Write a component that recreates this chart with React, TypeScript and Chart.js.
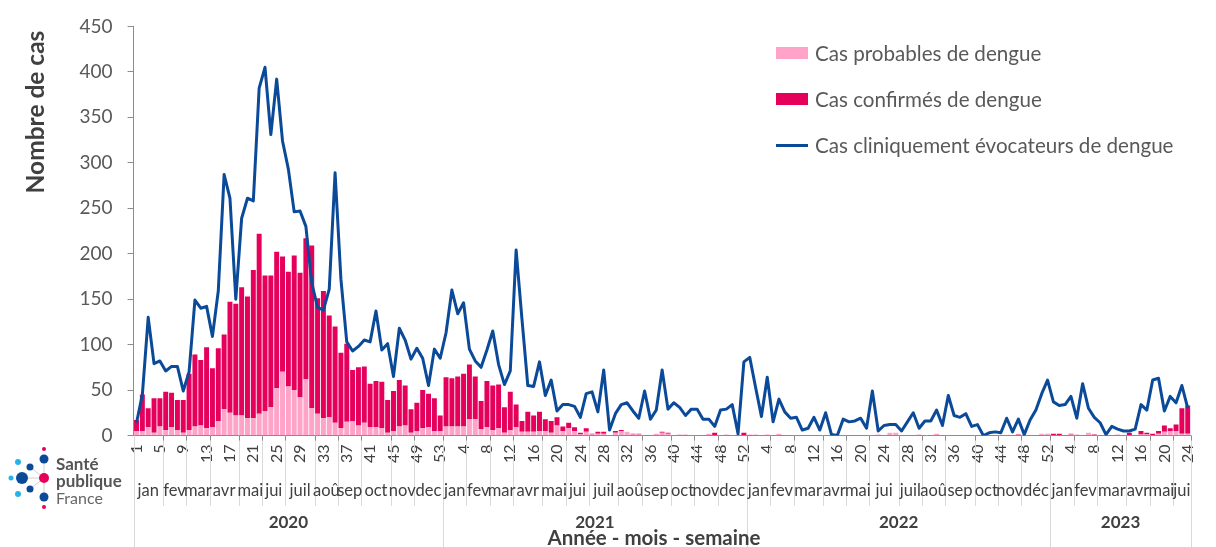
import React, { useEffect, useRef } from "react";
import { Chart, registerables } from "chart.js";

Chart.register(...registerables);

// ---------- Categories / tick labels ----------
const YEARS = ["2020", "2021", "2022", "2023"];
const WEEKS_PER_YEAR = [53, 52, 52, 24];
const WEEK_TICKS_2020 = [1, 5, 9, 13, 17, 21, 25, 29, 33, 37, 41, 45, 49, 53];
const WEEK_TICKS_2021 = [4, 8, 12, 16, 20, 24, 28, 32, 36, 40, 44, 48, 52];
const WEEK_TICKS_2022 = [4, 8, 12, 16, 20, 24, 28, 32, 36, 40, 44, 48, 52];
const WEEK_TICKS_2023 = [4, 8, 12, 16, 20, 24];

const MONTHS_2020 = ["jan", "fev", "mar", "avr", "mai", "jui", "juil", "aoû", "sep", "oct", "nov", "dec"];
const MONTHS_2021 = ["jan", "fev", "mar", "avr", "mai", "jui", "juil", "aoû", "sep", "oct", "nov", "dec"];
const MONTHS_2022 = ["jan", "fev", "mar", "avr", "mai", "jui", "juil", "aoû", "sep", "oct", "nov", "déc"];
const MONTHS_2023 = ["jan", "fev", "mar", "avr", "mai", "jui"];
const MONTH_WEEKS_2020 = [5, 4, 4, 5, 4, 4, 5, 4, 4, 5, 4, 5];
const MONTH_WEEKS_2021 = [4, 4, 4, 5, 4, 4, 5, 4, 5, 4, 4, 5];
const MONTH_WEEKS_2022 = [4, 4, 5, 4, 4, 5, 4, 4, 5, 4, 4, 5];
const MONTH_WEEKS_2023 = [4, 4, 5, 4, 4, 3];

// ---------- Series values ----------
const PROBABLES_2020 = [5, 5, 9, 3, 10, 6, 9, 6, 3, 6, 10, 11, 8, 9, 16, 29, 25, 22, 22, 19, 19, 24, 27, 31, 52, 70, 54, 50, 42, 62, 30, 24, 19, 20, 14, 8, 15, 16, 11, 14, 9, 9, 8, 3, 5, 10, 11, 3, 5, 8, 9, 5, 5];
const PROBABLES_2021 = [10, 10, 10, 10, 18, 18, 7, 9, 6, 8, 3, 6, 9, 4, 4, 4, 5, 5, 3, 11, 5, 8, 5, 1, 4, 1, 2, 2, 0, 3, 5, 4, 1, 1, 0, 0, 2, 3, 2, 0, 1, 1, 0, 0, 0, 2, 0, 0, 1, 0, 1, 0];
const PROBABLES_2022 = [1, 1, 0, 1, 0, 2, 0, 0, 0, 0, 0, 0, 0, 0, 0, 0, 0, 0, 0, 0, 0, 0, 1, 0, 3, 3, 0, 0, 0, 1, 0, 0, 2, 0, 0, 0, 0, 0, 0, 0, 0, 0, 0, 0, 0, 0, 0, 0, 0, 0, 2, 2];
const PROBABLES_2023 = [0, 0, 0, 1, 1, 0, 3, 0, 0, 0, 0, 1, 0, 0, 0, 1, 1, 0, 2, 4, 5, 5, 2, 2];

const CONFIRMES_2020 = [12, 40, 21, 38, 31, 42, 38, 33, 36, 62, 79, 72, 89, 65, 80, 82, 122, 123, 141, 134, 163, 198, 149, 145, 150, 127, 126, 148, 137, 155, 179, 127, 140, 112, 106, 83, 86, 56, 64, 62, 48, 51, 51, 36, 44, 51, 44, 26, 31, 42, 37, 36, 17];
const CONFIRMES_2021 = [54, 53, 55, 58, 60, 47, 31, 51, 49, 48, 28, 42, 25, 12, 22, 18, 21, 13, 13, 9, 5, 6, 4, 2, 4, 1, 2, 2, 0, 2, 1, 0, 1, 1, 0, 0, 0, 1, 1, 0, 0, 0, 0, 0, 0, 0, 3, 0, 0, 0, 0, 3];
const CONFIRMES_2022 = [0, 0, 0, 0, 0, 0, 0, 0, 0, 0, 0, 0, 0, 0, 0, 0, 0, 0, 0, 0, 0, 0, 0, 0, 0, 0, 0, 0, 0, 0, 0, 0, 0, 0, 0, 0, 0, 0, 0, 0, 0, 0, 0, 0, 0, 0, 1, 0, 0, 0, 0, 0];
const CONFIRMES_2023 = [2, 2, 0, 1, 0, 0, 0, 1, 0, 0, 0, 0, 0, 3, 0, 4, 2, 2, 3, 7, 3, 7, 28, 31];

const CLINIQUES_2020 = [14, 45, 130, 79, 82, 71, 76, 76, 49, 70, 149, 140, 142, 109, 159, 287, 261, 150, 239, 261, 258, 382, 405, 331, 392, 324, 293, 246, 247, 230, 168, 141, 138, 161, 289, 172, 103, 93, 98, 105, 103, 137, 94, 101, 65, 118, 105, 84, 96, 85, 55, 95, 85];
const CLINIQUES_2021 = [113, 160, 134, 146, 95, 82, 75, 94, 115, 78, 56, 71, 204, 128, 55, 54, 81, 44, 61, 27, 34, 34, 32, 20, 46, 48, 26, 72, 6, 24, 34, 36, 27, 19, 49, 18, 28, 72, 29, 36, 31, 22, 29, 29, 18, 18, 10, 28, 29, 34, 2, 81];
const CLINIQUES_2022 = [86, 53, 21, 64, 15, 40, 26, 19, 20, 6, 8, 20, 6, 25, 1, 0, 18, 15, 16, 19, 8, 49, 5, 11, 12, 12, 5, 15, 25, 8, 16, 16, 28, 11, 44, 22, 20, 24, 10, 12, 0, 3, 4, 3, 19, 4, 18, 1, 17, 28, 46, 61];
const CLINIQUES_2023 = [37, 33, 34, 43, 19, 57, 30, 20, 14, 1, 10, 7, 5, 5, 7, 34, 28, 61, 63, 27, 43, 36, 55, 30];

const Y_TICKS = [0, 50, 100, 150, 200, 250, 300, 350, 400, 450];

// ---------- Styling ----------
const FONT = "Lato, 'Noto Sans', sans-serif";
const PINK = "#FFA3C8";
const CRIMSON = "#E4005B";
const BLUE = "#0A4A98";
const TEXT = "#404040";
const AXIS = "#8C8C8C";

const WEEK_TICKS = [WEEK_TICKS_2020, WEEK_TICKS_2021, WEEK_TICKS_2022, WEEK_TICKS_2023];
const MONTH_NAMES = [MONTHS_2020, MONTHS_2021, MONTHS_2022, MONTHS_2023];
const MONTH_WEEKS = [MONTH_WEEKS_2020, MONTH_WEEKS_2021, MONTH_WEEKS_2022, MONTH_WEEKS_2023];

const multiLevelAxis = {
  id: "multiLevelAxis",
  afterDraw(chart: any) {
    const { ctx, chartArea } = chart;
    const xs = chart.scales.x;
    const half = (xs.getPixelForValue(1) - xs.getPixelForValue(0)) / 2;
    const edge = (k: number) => xs.getPixelForValue(k) - half;
    const axisY = chartArea.bottom;
    ctx.save();
    let start = 0;
    const monthY = 491;
    const yearY = 523;
    ctx.lineWidth = 1;
    const vline = (x: number, y0: number, y1: number, color: string) => {
      ctx.strokeStyle = color;
      ctx.beginPath();
      ctx.moveTo(Math.round(x) + 0.5, y0);
      ctx.lineTo(Math.round(x) + 0.5, y1);
      ctx.stroke();
    };
    vline(edge(0), axisY, 547, "#D9D9D9");
    YEARS.forEach((yr, yi) => {
      const counts = MONTH_WEEKS[yi];
      const names = MONTH_NAMES[yi];
      let m0 = start;
      counts.forEach((c: number, mi: number) => {
        const b = edge(m0 + c);
        m0 += c;
        if (mi < counts.length - 1) {
          vline(b, axisY, 506, "#D9D9D9");
          vline(b, axisY, axisY + 5, AXIS);
        }
      });
      const yb = edge(start + WEEKS_PER_YEAR[yi]);
      vline(yb, axisY, 547, "#D9D9D9");
      vline(yb, axisY, axisY + 5, AXIS);
      start += WEEKS_PER_YEAR[yi];
    });
    // labels on top of the separator lines
    start = 0;
    ctx.fillStyle = TEXT;
    ctx.textAlign = "center";
    ctx.textBaseline = "middle";
    YEARS.forEach((yr, yi) => {
      const counts = MONTH_WEEKS[yi];
      const names = MONTH_NAMES[yi];
      let m0 = start;
      ctx.font = `16.5px ${FONT}`;
      counts.forEach((c: number, mi: number) => {
        const a = edge(m0);
        const b = edge(m0 + c);
        ctx.fillText(names[mi], (a + b) / 2, monthY);
        m0 += c;
      });
      const ya = edge(start);
      const yb = edge(start + WEEKS_PER_YEAR[yi]);
      ctx.font = `bold 17px ${FONT}`;
      ctx.fillText(yr, (ya + yb) / 2, yearY);
      start += WEEKS_PER_YEAR[yi];
    });
    // axis titles
    ctx.fillStyle = TEXT;
    ctx.font = `bold 20.5px ${FONT}`;
    ctx.textAlign = "center";
    ctx.textBaseline = "middle";
    ctx.fillText("Année - mois - semaine", 654, 538);
    ctx.translate(36, 112);
    ctx.rotate(-Math.PI / 2);
    ctx.font = `bold 24.5px ${FONT}`;
    ctx.fillText("Nombre de cas", 0, 0);
    ctx.restore();
  },
};

function Logo() {
  return (
    <svg width={130} height={70} style={{ position: "absolute", left: 6, top: 444 }}>
      <g stroke="#D0D0D0" strokeWidth={1}>
        <line x1={16} y1={34} x2={38} y2={34} />
        <line x1={24} y1={23} x2={38} y2={34} />
        <line x1={24} y1={45} x2={38} y2={34} />
        <line x1={38} y1={15} x2={38} y2={53} />
      </g>
      <circle cx={5} cy={34} r={2.5} fill="#27B3E8" />
      <circle cx={16} cy={34} r={6} fill="#0A4A98" />
      <circle cx={12} cy={18} r={3} fill="#27B3E8" />
      <circle cx={12} cy={50} r={3} fill="#27B3E8" />
      <circle cx={24} cy={23} r={3.5} fill="#0A4A98" />
      <circle cx={24} cy={45} r={3.5} fill="#0A4A98" />
      <circle cx={38} cy={34} r={5} fill="#E4005B" />
      <circle cx={38} cy={15} r={4.5} fill="#0A4A98" />
      <circle cx={38} cy={53} r={4.5} fill="#0A4A98" />
      <circle cx={38} cy={5} r={2} fill="#E4005B" />
      <circle cx={38} cy={63} r={2} fill="#E4005B" />
      <text x={50} y={26} fontFamily={FONT} fontWeight={700} fontSize={17} fill="#555">Santé</text>
      <text x={50} y={43} fontFamily={FONT} fontWeight={700} fontSize={17} fill="#555">publique</text>
      <text x={50} y={60} fontFamily={FONT} fontSize={16} fill="#666">France</text>
    </svg>
  );
}

function Legend() {
  const item = (top: number, swatch: React.ReactNode, label: string) => (
    <div style={{ position: "absolute", left: 776, top, height: 24, display: "flex", alignItems: "center" }}>
      <div style={{ width: 32, display: "flex", alignItems: "center", justifyContent: "center" }}>{swatch}</div>
      <span style={{ marginLeft: 7, fontFamily: FONT, fontSize: 20.6, color: "#595959", whiteSpace: "nowrap" }}>{label}</span>
    </div>
  );
  return (
    <>
      {item(41, <div style={{ width: 32, height: 12, background: PINK }} />, "Cas probables de dengue")}
      {item(87, <div style={{ width: 32, height: 12, background: CRIMSON }} />, "Cas confirmés de dengue")}
      {item(133, <div style={{ width: 32, height: 3, background: BLUE }} />, "Cas cliniquement évocateurs de dengue")}
    </>
  );
}

export default function App() {
  const ref = useRef<HTMLCanvasElement>(null);
  useEffect(() => {
    const labels: string[] = [];
    const shown: boolean[] = [];
    WEEKS_PER_YEAR.forEach((n, yi) => {
      for (let w = 1; w <= n; w++) {
        labels.push(String(w));
        shown.push(WEEK_TICKS[yi].includes(w));
      }
    });
    const probables = [...PROBABLES_2020, ...PROBABLES_2021, ...PROBABLES_2022, ...PROBABLES_2023];
    const confirmes = [...CONFIRMES_2020, ...CONFIRMES_2021, ...CONFIRMES_2022, ...CONFIRMES_2023];
    const cliniques = [...CLINIQUES_2020, ...CLINIQUES_2021, ...CLINIQUES_2022, ...CLINIQUES_2023];

    const chart = new Chart(ref.current as HTMLCanvasElement, {
      type: "bar",
      data: {
        labels,
        datasets: [
          {
            type: "line",
            label: "Cas cliniquement évocateurs de dengue",
            data: cliniques,
            borderColor: BLUE,
            backgroundColor: BLUE,
            borderWidth: 3,
            pointRadius: 0,
            tension: 0,
            stack: "line",
            order: 0,
            borderJoinStyle: "round",
          } as any,
          {
            type: "bar",
            label: "Cas probables de dengue",
            data: probables,
            backgroundColor: PINK,
            stack: "cas",
            order: 1,
            barPercentage: 0.85,
            categoryPercentage: 1,
          },
          {
            type: "bar",
            label: "Cas confirmés de dengue",
            data: confirmes,
            backgroundColor: CRIMSON,
            stack: "cas",
            order: 1,
            barPercentage: 0.85,
            categoryPercentage: 1,
          },
        ],
      },
      options: {
        responsive: false,
        animation: false,
        layout: { padding: { top: 21, right: 23.6, bottom: 0, left: 0 } },
        plugins: { legend: { display: false }, tooltip: { enabled: false } },
        scales: {
          x: {
            stacked: true,
            grid: { display: false, drawTicks: false },
            border: { display: true, color: AXIS, width: 1 },
            ticks: {
              autoSkip: false,
              maxRotation: 90,
              minRotation: 90,
              padding: 9,
              color: TEXT,
              font: { family: FONT, size: 16 },
              callback: (_v: any, i: number) => (shown[i] ? labels[i] : ""),
            },
            afterFit: (s: any) => {
              s.height = 111.5;
            },
          },
          y: {
            stacked: true,
            min: 0,
            max: 450,
            afterBuildTicks: (s: any) => {
              s.ticks = Y_TICKS.map((v) => ({ value: v }));
            },
            ticks: { padding: 15, color: "#595959", font: { family: FONT, size: 19 } },
            grid: { display: true, drawOnChartArea: false, drawTicks: true, tickLength: 6, color: AXIS },
            border: { display: true, color: AXIS, width: 1 },
            afterFit: (s: any) => {
              s.width = 133.6;
            },
          },
        },
      },
      plugins: [multiLevelAxis],
    });
    return () => chart.destroy();
  }, []);

  return (
    <div style={{ position: "absolute", left: 0, top: 0, width: 1216, height: 547, background: "#fff", overflow: "hidden" }}>
      <canvas ref={ref} width={1216} height={547} style={{ position: "absolute", left: 0, top: 0 }} />
      <Legend />
      <Logo />
    </div>
  );
}
